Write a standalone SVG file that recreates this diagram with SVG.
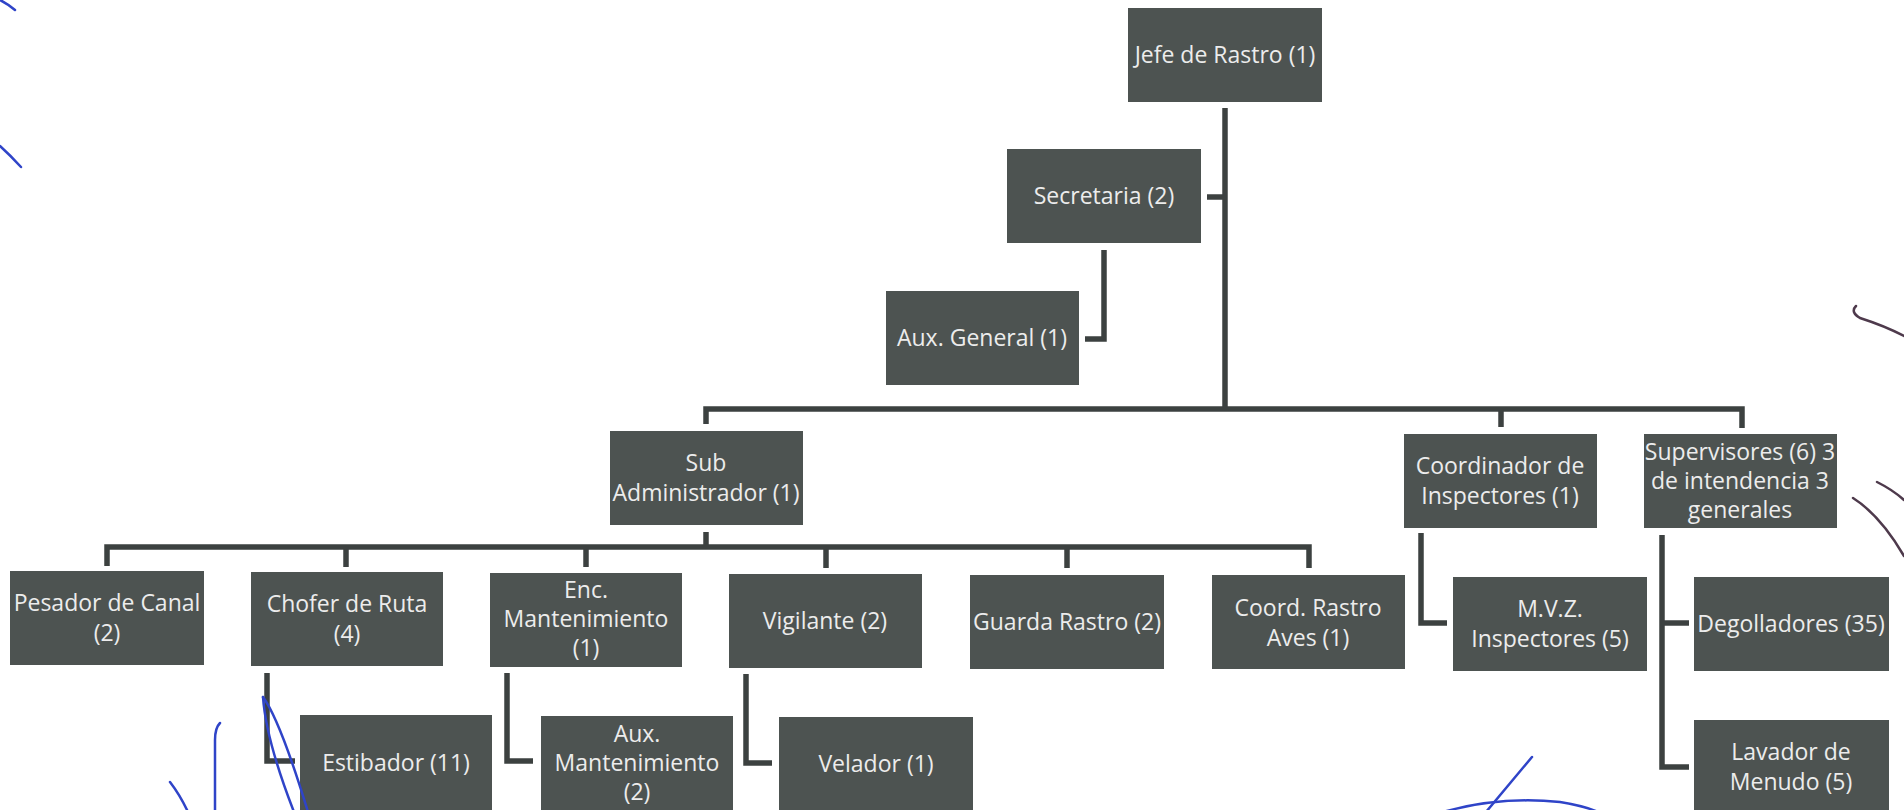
<svg xmlns="http://www.w3.org/2000/svg" width="1904" height="810" viewBox="0 0 1904 810">
<style>
.box{fill:#4d5351;}
.t{font-family:"Open Sans","Liberation Sans",sans-serif;font-size:23px;fill:#ececec;text-anchor:middle;}
.c{fill:none;stroke:#3c4140;stroke-width:5.5;stroke-linejoin:miter;stroke-linecap:butt;}
.ink{fill:none;stroke:#2f44c8;stroke-width:2.5;stroke-linecap:round;}
.ink2{fill:none;stroke:#4e3a4c;stroke-width:2.5;stroke-linecap:round;}
</style>
<rect width="1904" height="810" fill="#ffffff"/>
<g id="connectors">
<path class="c" d="M1225,108 V410"/>
<path class="c" d="M1207,197 H1225"/>
<path class="c" d="M1104,250 V339 H1085"/>
<path class="c" d="M706,424 V409 H1742 V428"/>
<path class="c" d="M1501,409 V427"/>
<path class="c" d="M706,532 V547"/>
<path class="c" d="M107,566 V547 H1309 V568"/>
<path class="c" d="M346,547 V567"/>
<path class="c" d="M586,547 V567"/>
<path class="c" d="M826,547 V568"/>
<path class="c" d="M1067,547 V568"/>
<path class="c" d="M267,673 V761 H295"/>
<path class="c" d="M507,673 V761 H533"/>
<path class="c" d="M746,674 V763 H772"/>
<path class="c" d="M1421,533 V623 H1447"/>
<path class="c" d="M1662,535 V767 H1689"/>
<path class="c" d="M1662,623 H1689"/>
</g>
<g id="jefe"><rect class="box" x="1128" y="8" width="194" height="94"/><text class="t" x="1225" y="63">Jefe de Rastro (1)</text></g>
<g id="secretaria"><rect class="box" x="1007" y="149" width="194" height="94"/><text class="t" x="1104" y="204">Secretaria (2)</text></g>
<g id="aux_general"><rect class="box" x="886" y="291" width="193" height="94"/><text class="t" x="982" y="346">Aux. General (1)</text></g>
<g id="sub_admin"><rect class="box" x="610" y="431" width="193" height="94"/><text class="t" x="706" y="471">Sub</text><text class="t" x="706" y="501">Administrador (1)</text></g>
<g id="coordinador"><rect class="box" x="1404" y="434" width="193" height="94"/><text class="t" x="1500" y="474">Coordinador de</text><text class="t" x="1500" y="504">Inspectores (1)</text></g>
<g id="supervisores"><rect class="box" x="1644" y="434" width="193" height="94"/><text class="t" x="1740" y="460">Supervisores (6) 3</text><text class="t" x="1740" y="489">de intendencia 3</text><text class="t" x="1740" y="518">generales</text></g>
<g id="pesador"><rect class="box" x="10" y="571" width="194" height="94"/><text class="t" x="107" y="611">Pesador de Canal</text><text class="t" x="107" y="641">(2)</text></g>
<g id="chofer"><rect class="box" x="251" y="572" width="192" height="94"/><text class="t" x="347" y="612">Chofer de Ruta</text><text class="t" x="347" y="642">(4)</text></g>
<g id="enc_mant"><rect class="box" x="490" y="573" width="192" height="94"/><text class="t" x="586" y="598">Enc.</text><text class="t" x="586" y="627">Mantenimiento</text><text class="t" x="586" y="656">(1)</text></g>
<g id="vigilante"><rect class="box" x="729" y="574" width="193" height="94"/><text class="t" x="825" y="629">Vigilante (2)</text></g>
<g id="guarda"><rect class="box" x="970" y="575" width="194" height="94"/><text class="t" x="1067" y="630">Guarda Rastro (2)</text></g>
<g id="coord_aves"><rect class="box" x="1212" y="575" width="193" height="94"/><text class="t" x="1308" y="616">Coord. Rastro</text><text class="t" x="1308" y="646">Aves (1)</text></g>
<g id="mvz"><rect class="box" x="1453" y="577" width="194" height="94"/><text class="t" x="1550" y="617">M.V.Z.</text><text class="t" x="1550" y="647">Inspectores (5)</text></g>
<g id="degolladores"><rect class="box" x="1694" y="577" width="195" height="94"/><text class="t" x="1791" y="632">Degolladores (35)</text></g>
<g id="estibador"><rect class="box" x="300" y="715" width="192" height="96"/><text class="t" x="396" y="771">Estibador (11)</text></g>
<g id="aux_mant"><rect class="box" x="541" y="716" width="192" height="95"/><text class="t" x="637" y="742">Aux.</text><text class="t" x="637" y="771">Mantenimiento</text><text class="t" x="637" y="800">(2)</text></g>
<g id="velador"><rect class="box" x="779" y="717" width="194" height="94"/><text class="t" x="876" y="772">Velador (1)</text></g>
<g id="lavador"><rect class="box" x="1694" y="720" width="195" height="94"/><text class="t" x="1791" y="760">Lavador de</text><text class="t" x="1791" y="790">Menudo (5)</text></g>
<g id="ink_marks">
<path class="ink" d="M0,0 Q8,4 15,10"/>
<path class="ink" d="M0,146 Q10,155 21,167"/>
<path class="ink" d="M170,782 Q180,795 188,812"/>
<path class="ink" d="M220,723 Q215,728 215,740 L215,812"/>
<path class="ink" d="M263,697 Q266,740 294,812"/>
<path class="ink" d="M263,697 Q280,720 308,812"/>
<path class="ink" d="M1532,757 L1486,812"/>
<path class="ink" d="M1443,812 Q1500,796 1560,802 Q1585,806 1598,812"/>
<path class="ink2" d="M1856,306 Q1850,312 1860,318 Q1885,326 1904,336"/>
<path class="ink2" d="M1877,482 Q1893,490 1904,500"/>
<path class="ink2" d="M1853,498 Q1880,515 1904,556"/>
</g>
</svg>
